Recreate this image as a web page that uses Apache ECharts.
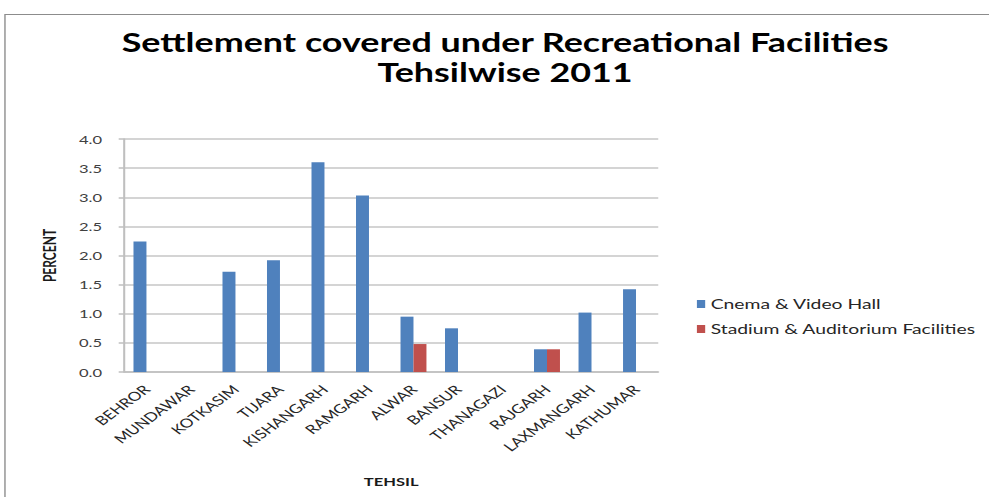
<!DOCTYPE html>
<html>
<head>
<meta charset="utf-8">
<script src="https://cdn.jsdelivr.net/npm/echarts@6/dist/echarts.min.js"></script>
<style>
  html, body { margin: 0; padding: 0; background: #ffffff; overflow: hidden; width: 989px; height: 497px; }
  /* the chart is laid out narrower and widened horizontally, giving the wide letterforms */
  #chart { width: 717px; height: 497px; transform: scaleX(1.38); transform-origin: 0 0; }
</style>
</head>
<body>
<div id="chart"></div>
<script>
// Tehsils of the district, in display order
const tehsils = ['BEHROR', 'MUNDAWAR', 'KOTKASIM', 'TIJARA', 'KISHANGARH', 'RAMGARH',
  'ALWAR', 'BANSUR', 'THANAGAZI', 'RAJGARH', 'LAXMANGARH', 'KATHUMAR'];

// Percent of settlements with each facility
const cinemaVideoHall = [2.24, 0, 1.72, 1.92, 3.60, 3.03, 0.95, 0.75, 0, 0.39, 1.02, 1.42];
const stadiumAuditorium = [0, 0, 0, 0, 0, 0, 0.48, 0, 0, 0.39, 0, 0];

const seriesNames = ['Cnema & Video Hall', 'Stadium & Auditorium Facilities'];
const chartTitle = 'Settlement covered under Recreational Facilities\nTehsilwise 2011';
const yTicks = { min: 0, max: 4, interval: 0.5 };

const chart = echarts.init(document.getElementById('chart'), null, { renderer: 'svg' });

const font = 'Lato, "Open Sans", sans-serif';

chart.setOption({
  animation: false,
  backgroundColor: '#ffffff',
  graphic: [
    {
      // outer frame of the chart area
      type: 'rect',
      shape: { x: 3.6, y: 14.5, width: 900, height: 500 },
      style: { fill: 'none', stroke: '#8c8c8c', lineWidth: 1 },
      silent: true
    },
    {
      // two-line centred heading
      type: 'text',
      x: 366,
      y: 27,
      silent: true,
      style: {
        text: chartTitle,
        align: 'center',
        verticalAlign: 'top',
        fontFamily: font,
        fontWeight: 'bold',
        fontSize: 26,
        lineHeight: 30,
        fill: '#000000'
      }
    }
  ],
  legend: {
    orient: 'vertical',
    left: 500,
    top: 292,
    itemWidth: 6,
    itemHeight: 8,
    itemGap: 11,
    icon: 'rect',
    textStyle: { fontFamily: font, fontSize: 14, color: '#262626', padding: [0, 0, 0, -1] },
    data: seriesNames
  },
  grid: { left: 90, right: 240, top: 139, bottom: 125, containLabel: false },
  xAxis: {
    type: 'category',
    data: tehsils,
    name: 'TEHSIL',
    nameLocation: 'middle',
    nameGap: 103,
    nameTextStyle: { fontFamily: font, fontWeight: 'bold', fontSize: 12, color: '#1a1a1a' },
    axisLine: { lineStyle: { color: '#bfbfbf', width: 1.5 } },
    axisTick: { show: false },
    axisLabel: {
      interval: 0,
      rotate: 45,
      margin: 15,
      fontFamily: font,
      fontSize: 12.5,
      color: '#262626'
    }
  },
  yAxis: {
    type: 'value',
    min: yTicks.min,
    max: yTicks.max,
    interval: yTicks.interval,
    name: 'PERCENT',
    nameLocation: 'middle',
    nameGap: 48,
    nameRotate: 90,
    nameTextStyle: { fontFamily: font, fontWeight: 'bold', fontSize: 12, color: '#1a1a1a' },
    axisLine: { show: true, lineStyle: { color: '#bfbfbf', width: 1.5 } },
    axisTick: { show: true, length: 4, lineStyle: { color: '#bfbfbf', width: 1.5 } },
    axisLabel: {
      formatter: v => v.toFixed(1),
      margin: 16,
      fontFamily: font,
      fontSize: 12,
      color: '#404040'
    },
    splitLine: { lineStyle: { color: '#d4d4d4', width: 1.8 } }
  },
  series: [
    {
      name: seriesNames[0],
      type: 'bar',
      data: cinemaVideoHall,
      barWidth: 9.4,
      barGap: '0%',
      itemStyle: { color: '#4F81BD' }
    },
    {
      name: seriesNames[1],
      type: 'bar',
      data: stadiumAuditorium,
      barWidth: 9.4,
      barGap: '0%',
      itemStyle: { color: '#C0504D' }
    }
  ]
});
</script>
</body>
</html>
